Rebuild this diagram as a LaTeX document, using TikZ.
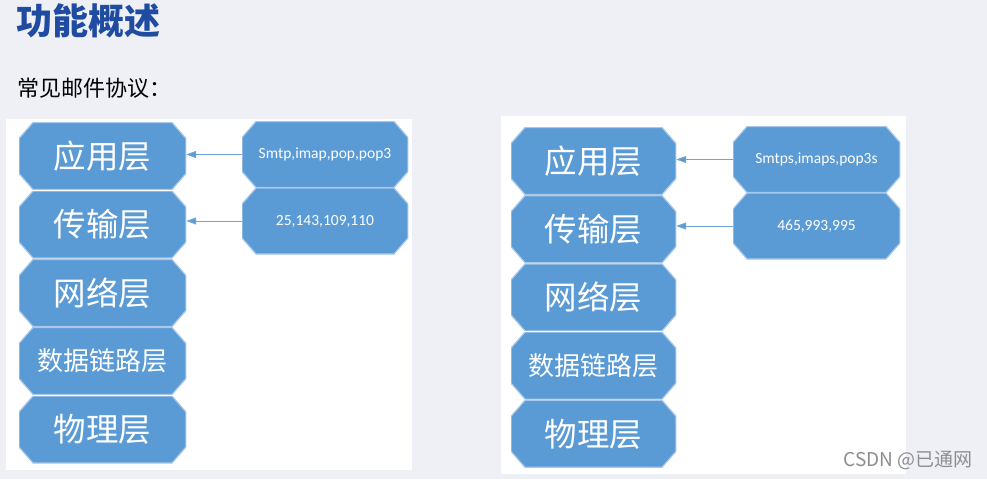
\documentclass[tikz,border=0pt]{standalone}
\usepackage{fontspec}
\setmainfont{Carlito}
\newfontfamily\cjk{Noto Sans CJK SC}
\usetikzlibrary{arrows.meta}

\definecolor{bgc}{HTML}{EEF0F6}
\definecolor{layerblue}{HTML}{5B9BD5}
\definecolor{titleblue}{HTML}{1F4CA0}
\definecolor{edgeblue}{HTML}{A9C8EA}
\definecolor{linkblue}{HTML}{6FA5DA}
\definecolor{markgray}{HTML}{8E8E8E}

\begin{document}
\begin{tikzpicture}[x=1pt,y=-1pt,
    layer/.style={minimum width=167pt,minimum height=67pt,inner sep=0pt,
        text=white,font=\cjk\fontsize{32.5}{32.5}\selectfont,
        path picture={\filldraw[fill=layerblue,draw=edgeblue,line width=1.2pt]
            ([shift={(14pt,0pt)}]path picture bounding box.north west)
            -- ([shift={(-14pt,0pt)}]path picture bounding box.north east)
            -- ([shift={(0pt,-16pt)}]path picture bounding box.north east)
            -- ([shift={(0pt,16pt)}]path picture bounding box.south east)
            -- ([shift={(-14pt,0pt)}]path picture bounding box.south east)
            -- ([shift={(14pt,0pt)}]path picture bounding box.south west)
            -- ([shift={(0pt,16pt)}]path picture bounding box.south west)
            -- ([shift={(0pt,-16pt)}]path picture bounding box.north west)
            -- cycle;}},
    small/.style={font=\cjk\fontsize{26}{26}\selectfont},
    port/.style={layer,minimum width=166pt,minimum height=66pt,
        font=\fontsize{15.5}{15.5}\selectfont},
    link/.style={draw=linkblue,line width=0.9pt,
        -{Triangle[length=10pt,width=7pt,fill=layerblue]}}]
            \useasboundingbox (0,0) rectangle (987,479);
            \fill[bgc] (0,0) rectangle (987,479);
            \node[anchor=west,inner sep=0pt,text=titleblue,
                font=\cjk\bfseries\fontsize{36}{36}\selectfont] (title) at (16,21) {功能概述};
            \node[anchor=west,inner sep=0pt,
                font=\cjk\fontsize{22}{22}\selectfont] (intro) at (17,88) {常见邮件协议：};
            % left panel
            \fill[white] (6,119) rectangle (412,470);
            \node[layer] (app) at (102.5,156) {应用层};
            \node[layer] (trans) at (102.5,224.5) {传输层};
            \node[layer] (net) at (102.5,293) {网络层};
            \node[layer,small] (data) at (102.5,361) {数据链路层};
            \node[layer] (phy) at (102.5,429.5) {物理层};
            \node[port] (proto) at (325,154.5) {Smtp,imap,pop,pop3};
            \node[port] (port) at (325,221) {25,143,109,110};
            \draw[link] (proto.west) -- (proto.west -| app.east);
            \draw[link] (port.west) -- (port.west -| trans.east);
            % right panel
            \fill[white] (501,116) rectangle (906,474);
            \node[layer,minimum width=165pt] (sapp) at (593.5,161) {应用层};
            \node[layer,minimum width=165pt] (strans) at (593.5,229.2) {传输层};
            \node[layer,minimum width=165pt] (snet) at (593.5,297.4) {网络层};
            \node[layer,small,minimum width=165pt] (sdata) at (593.5,365.6) {数据链路层};
            \node[layer,minimum width=165pt] (sphy) at (593.5,433.8) {物理层};
            \node[port,minimum width=167pt] (sproto) at (816.5,159.5) {Smtps,imaps,pop3s};
            \node[port,minimum width=167pt] (sport) at (816.5,226) {465,993,995};
            \draw[link] (sproto.west) -- (sproto.west -| sapp.east);
            \draw[link] (sport.west) -- (sport.west -| strans.east);
            \node[anchor=east,inner sep=0pt,text=markgray,
                font=\cjk\fontsize{19}{19}\selectfont] (mark) at (973,460) {CSDN @已通网};
        \end{tikzpicture}
\end{document}
